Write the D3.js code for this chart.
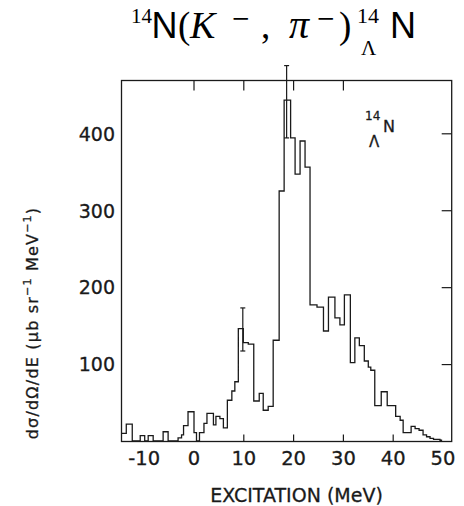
<!DOCTYPE html>
<html><head><meta charset="utf-8">
<script src="https://cdn.jsdelivr.net/npm/d3@7"></script>
<style>body{margin:0;background:#fff}</style>
</head><body><svg id="c" width="464" height="506"></svg>
<script>
// ---- data ----
const binEdges = [-14.5, -13.5, -12.3, -10.7, -9.8, -9.1, -8.1, -6.1, -5.1, -3.1, -2.4, -2.0, -1.1, 0.1, 0.6, 1.2, 2.1, 2.7, 4.0, 4.5, 5.3, 6.0, 6.8, 7.7, 8.3, 9.0, 10.0, 11.0, 12.1, 13.2, 14.0, 15.0, 16.0, 17.2, 18.2, 19.5, 20.4, 21.4, 22.4, 23.4, 24.8, 26.1, 27.1, 28.4, 29.4, 30.3, 31.5, 32.4, 33.3, 34.3, 35.1, 35.6, 36.4, 37.7, 38.9, 40.6, 41.5, 42.1, 43.7, 44.5, 45.3, 46.1, 46.8, 47.5, 48.2, 49.5, 49.8];
const binValues = [10, 22, 0, 7, 0, 7, 0, 12, 0, 4, 8, 20, 38, 11, 0, 11, 23, 36, 21, 32, 29, 17, 53, 65, 77, 146, 128, 126, 52, 62, 40, 45, 131, 325, 443, 394, 347, 390, 356, 177, 174, 143, 187, 160, 151, 190, 102, 134, 124, 104, 96, 92, 46, 64, 46, 32, 27, 11, 19, 16, 14, 8, 5.5, 3.5, 2.2, 1];
const xTickValues = [-10, 0, 10, 20, 30, 40, 50];
const xTickLabels = ["-10", "0", "10", "20", "30", "40", "50"];
const xInnerTicksBottom = [10, 20, 30, 40];
const xInnerTicksTop = [0, 10, 20, 30];
const yTickValues = [100, 200, 300, 400];
const yTickLabels = ["100", "200", "300", "400"];
const errX = [9.9, 18.7];
const errLow = [117, 394];
const errHigh = [173, 488];
const xLabel = "EXCITATION (MeV)";

// ---- layout ----
const svg = d3.select("#c");
const pL = 121.5, pR = 451.7, pT = 80.5, pB = 441.5;
const x = d3.scaleLinear().domain([-14.46, 51.85]).range([pL, pR]);
const y = d3.scaleLinear().domain([0, 400]).range([441, 133.3]);
const ink = "#1a1a1a";
const lab = "DejaVu Sans, sans-serif";

svg.append("rect").attr("width", 464).attr("height", 506).attr("fill", "#fff");

svg.append("defs").append("clipPath").attr("id", "pc")
  .append("rect").attr("x", pL).attr("y", pT).attr("width", pR - pL).attr("height", pB - pT);

// histogram
const pts = binValues.map((v, i) => [binEdges[i], v]);
pts.push([binEdges[binEdges.length - 1], binValues[binValues.length - 1]]);
pts.push([binEdges[binEdges.length - 1], 0]);
const line = d3.line().x(d => x(d[0])).y(d => y(d[1])).curve(d3.curveStepAfter);
svg.append("path").datum(pts).attr("d", line).attr("fill", "none")
  .attr("stroke", ink).attr("stroke-width", 1.3).attr("clip-path", "url(#pc)");

// frame
svg.append("rect").attr("x", pL).attr("y", pT).attr("width", pR - pL).attr("height", pB - pT)
  .attr("fill", "none").attr("stroke", ink).attr("stroke-width", 1.3);

// bottom axis labels
const gb = svg.append("g").attr("transform", `translate(0,${pB})`)
  .call(d3.axisBottom(x).tickValues(xTickValues).tickFormat((d, i) => xTickLabels[i]).tickSize(0).tickPadding(0));
gb.select(".domain").remove();
gb.selectAll("text").attr("y", 23.5).attr("dy", 0).attr("font-family", lab).attr("font-size", 19.5).attr("fill", ink)
  .attr("stroke", ink).attr("stroke-width", 0.3);

// inner ticks bottom
svg.append("g").attr("transform", `translate(0,${pB})`)
  .call(d3.axisTop(x).tickValues(xInnerTicksBottom).tickSize(7).tickFormat(""))
  .call(g => { g.select(".domain").remove(); g.selectAll("line").attr("stroke", ink).attr("stroke-width", 1.2); });
// inner ticks top
svg.append("g").attr("transform", `translate(0,${pT})`)
  .call(d3.axisBottom(x).tickValues(xInnerTicksTop).tickSize(10).tickFormat(""))
  .call(g => { g.select(".domain").remove(); g.selectAll("line").attr("stroke", ink).attr("stroke-width", 1.2); });

// left axis labels
const gl = svg.append("g").attr("transform", `translate(${pL},0)`)
  .call(d3.axisLeft(y).tickValues(yTickValues).tickFormat((d, i) => yTickLabels[i]).tickSize(0).tickPadding(6.5));
gl.select(".domain").remove();
gl.selectAll("text").attr("font-family", lab).attr("font-size", 19).attr("fill", ink).attr("dy", "0.36em")
  .attr("stroke", ink).attr("stroke-width", 0.3);
// right inner ticks
svg.append("g").attr("transform", `translate(${pR},0)`)
  .call(d3.axisLeft(y).tickValues(yTickValues).tickSize(10).tickFormat(""))
  .call(g => { g.select(".domain").remove(); g.selectAll("line").attr("stroke", ink).attr("stroke-width", 1.2); });

// error bars
errX.forEach((ex, i) => {
  const g = svg.append("g").attr("stroke", ink).attr("stroke-width", 1.2);
  g.append("line").attr("x1", x(ex)).attr("x2", x(ex)).attr("y1", y(errLow[i])).attr("y2", y(errHigh[i]));
  g.append("line").attr("x1", x(ex) - 2.5).attr("x2", x(ex) + 2.5).attr("y1", y(errLow[i])).attr("y2", y(errLow[i]));
  g.append("line").attr("x1", x(ex) - 2.5).attr("x2", x(ex) + 2.5).attr("y1", y(errHigh[i])).attr("y2", y(errHigh[i]));
});

// x label
svg.append("text").attr("x", (pL + pR) / 2 + 10).attr("y", 502).attr("text-anchor", "middle")
  .attr("font-family", lab).attr("font-size", 19).attr("fill", ink)
  .attr("stroke", ink).attr("stroke-width", 0.3).text(xLabel);

// y label
const yl = svg.append("text").attr("transform", "translate(37.5,323) rotate(-90)")
  .attr("text-anchor", "middle").attr("font-family", lab).attr("font-size", 16)
  .attr("letter-spacing", 1.2).attr("fill", ink).attr("stroke", ink).attr("stroke-width", 0.3);
yl.append("tspan").text("dσ/dΩ/dE (μb sr");
yl.append("tspan").attr("font-size", 11).attr("dy", -7).text("−1");
yl.append("tspan").attr("dy", 7).text(" MeV");
yl.append("tspan").attr("font-size", 11).attr("dy", -7).text("−1");
yl.append("tspan").attr("dy", 7).text(")");

// inner label 14 Λ N
svg.append("text").attr("x", 365).attr("y", 120).attr("font-family", lab).attr("font-size", 12).attr("fill", ink).attr("stroke", ink).attr("stroke-width", 0.3).text("14");
svg.append("text").attr("x", 383).attr("y", 132).attr("font-family", lab).attr("font-size", 16).attr("fill", ink).attr("stroke", ink).attr("stroke-width", 0.3).text("N");
svg.append("text").attr("x", 369).attr("y", 147).attr("font-family", lab).attr("font-size", 15).attr("fill", ink).attr("stroke", ink).attr("stroke-width", 0.3).text("Λ");

// title
const serif = "Liberation Serif, Times New Roman, serif";
const sans = "Liberation Sans, Arial, sans-serif";
const dserif = "DejaVu Serif, serif";
const T = (tx, xx, yy, fam, size, italic) => svg.append("text").attr("x", xx).attr("y", yy)
  .attr("font-family", fam).attr("font-size", size).attr("font-style", italic ? "italic" : "normal")
  .attr("fill", "#000").text(tx);
const base = 38.3;
T("14", 131, 22.5, serif, 21);
T("N", 151.5, base, sans, 36);
T("(", 178, base, serif, 37);
T("K", 190, base, serif, 38, true);
T("−", 231, 26, dserif, 23);
T(",", 261, base, serif, 37);
T("π", 289, base, serif, 40, true);
T("−", 316, 26, dserif, 23);
T(")", 339, base, serif, 37);
T("14", 357, 22.5, serif, 22);
T("Λ", 361, 55, serif, 21);
T("N", 390, base, sans, 36);
</script></body></html>
